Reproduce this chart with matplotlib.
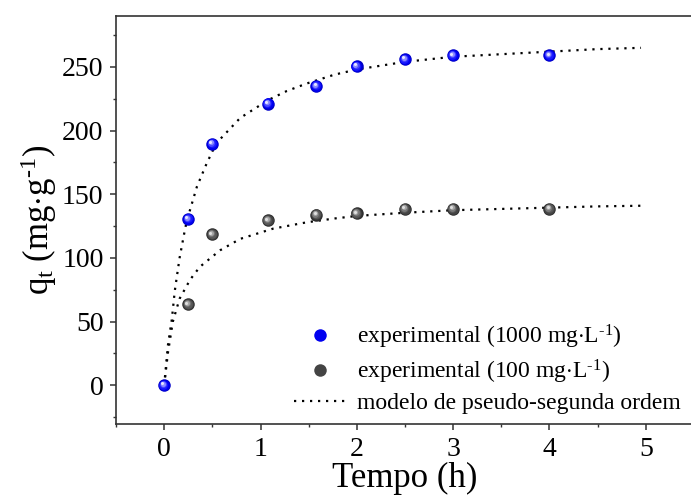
import matplotlib
matplotlib.use("Agg")
import matplotlib.pyplot as plt
from matplotlib.transforms import offset_copy
from matplotlib.lines import Line2D

plt.rcParams['font.family'] = ['Liberation Serif', 'DejaVu Serif']
plt.rcParams['mathtext.fontset'] = 'custom'
plt.rcParams['mathtext.rm'] = 'Liberation Serif'
plt.rcParams['mathtext.it'] = 'Liberation Serif:italic'

# dados experimentais
t_1000 = [0, 0.25, 0.5, 1.08, 1.58, 2.0, 2.5, 3.0, 4.0]
q_1000 = [0, 130.5, 189.5, 221, 235, 250.5, 256, 259, 259]

t_100 = [0.25, 0.5, 1.08, 1.58, 2.0, 2.5, 3.0, 4.0]
q_100 = [63.5, 118.5, 129.5, 134, 135, 138.5, 138.5, 138.5]

# curvas do modelo
fit_t_1000 = [0, 0.04, 0.08, 0.11, 0.16, 0.22, 0.25, 0.34, 0.44, 0.54, 0.79,
              1.08, 1.27, 1.48, 1.77, 2.0, 2.5, 3.0, 3.5, 4.0, 4.5, 4.95]
fit_q_1000 = [0, 32, 52, 74, 100, 124, 133, 156, 174, 190, 210,
              224, 231, 237, 244, 248, 254, 258, 260, 262, 264, 265]

fit_t_100 = [0, 0.04, 0.09, 0.16, 0.27, 0.37, 0.58, 0.79, 1.13, 1.48, 1.77,
             2.0, 2.5, 3.0, 3.5, 4.0, 4.5, 4.95]
fit_q_100 = [0, 26, 50, 68, 83, 93, 106, 115, 123, 128, 131,
             133, 135.5, 137.5, 138.5, 139.5, 140.5, 141]

x_ticks = [0, 1, 2, 3, 4, 5]
y_ticks = [0, 50, 100, 150, 200, 250]

fig = plt.figure(figsize=(6.91, 4.96), dpi=100)
ax = fig.add_axes([116 / 691, 1 - 423.5 / 496, 578 / 691, (423.5 - 16) / 496])

dot_style = (0, (1, 2.6))
ax.plot(fit_t_1000, fit_q_1000, color='black', lw=1.6, linestyle=dot_style, zorder=2)
ax.plot(fit_t_100, fit_q_100, color='black', lw=1.6, linestyle=dot_style, zorder=2)


def spheres(x, y, shades):
    # esfera "3D": camadas cada vez menores e mais claras, deslocadas para cima/esquerda
    n = len(shades)
    for i, c in enumerate(shades):
        size = 9.0 * (1 - i / (n + 0.6))
        dx = -1.6 * i / n
        dy = 1.6 * i / n
        tr = offset_copy(ax.transData, fig=fig, x=dx, y=dy, units='points')
        ax.plot(x, y, 'o', ms=size, color=c, mec='none', transform=tr, zorder=3 + i)


spheres(t_100, q_100, ['#2e2e2e', '#444444', '#5a5a5a', '#7a7a7a', '#a8a8a8', '#e0e0e0'])
spheres(t_1000, q_1000, ['#0000c8', '#0000f0', '#1a1aff', '#4b4bff', '#8f8fff', '#e6e6ff'])

ax.set_xlim(-0.5, 5.5)
ax.set_ylim(-30, 290)
ax.set_xticks(x_ticks)
ax.set_yticks(y_ticks)
ax.set_xticks([-0.5 + 0.5 * i for i in range(12)], minor=True)
ax.set_yticks([-25 + 25 * i for i in range(13)], minor=True)

spine_col = '#333333'
for s in ax.spines.values():
    s.set_color(spine_col)
    s.set_linewidth(1.2)
ax.spines['right'].set_visible(False)

ax.tick_params(which='major', direction='out', length=4, width=1.1, color=spine_col,
               labelsize=20)
ax.tick_params(axis='x', which='major', pad=5.5)
ax.tick_params(axis='y', which='major', pad=5)
ax.tick_params(which='minor', direction='out', length=2.5, width=1.0, color=spine_col)

ax.set_xlabel('Tempo (h)', fontsize=25, labelpad=0)
ax.set_ylabel(r'q$_\mathregular{t}$ (mg$\cdot$g$^{\text{-1}}$)', fontsize=25, labelpad=2)

handles = [
    Line2D([], [], marker='o', ls='none', ms=9, color='#0000f0', mec='none'),
    Line2D([], [], marker='o', ls='none', ms=9, color='#444444', mec='none'),
    Line2D([], [], color='black', lw=1.6, linestyle=dot_style),
]
labels = [
    r'experimental (1000 mg$\cdot$L$^{\text{-1}}$)',
    r'experimental (100 mg$\cdot$L$^{\text{-1}}$)',
    'modelo de pseudo-segunda ordem',
]
ax.legend(handles, labels, loc='lower right', bbox_to_anchor=(697 / 691, 1 - 431 / 496),
          bbox_transform=fig.transFigure, frameon=False, fontsize=17,
          handlelength=2.2, handletextpad=0.45, labelspacing=0.3, borderpad=0.2)

fig.savefig('out.png', dpi=100)
